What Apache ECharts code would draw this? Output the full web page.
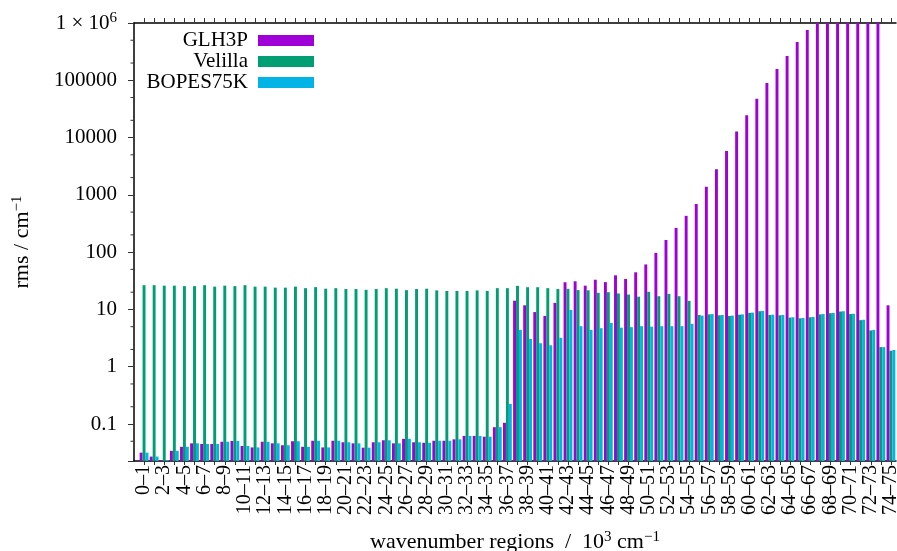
<!DOCTYPE html>
<html><head><meta charset="utf-8">
<script src="https://cdn.jsdelivr.net/npm/echarts@6/dist/echarts.min.js"></script>
<style>html,body{margin:0;padding:0;background:#fff}#c{width:897px;height:551px}</style>
</head><body><div id="c"></div>
<script>
const categories = ['0–1','1–2','2–3','3–4','4–5','5–6','6–7','7–8','8–9','9–10','10–11','11–12','12–13','13–14','14–15','15–16','16–17','17–18','18–19','19–20','20–21','21–22','22–23','23–24','24–25','25–26','26–27','27–28','28–29','29–30','30–31','31–32','32–33','33–34','34–35','35–36','36–37','37–38','38–39','39–40','40–41','41–42','42–43','43–44','44–45','45–46','46–47','47–48','48–49','49–50','50–51','51–52','52–53','53–54','54–55','55–56','56–57','57–58','58–59','59–60','60–61','61–62','62–63','63–64','64–65','65–66','66–67','67–68','68–69','69–70','70–71','71–72','72–73','73–74','74–75'];

const glh3p = [0.0316,0.027,0.0235,0.034,0.040,0.046,0.0448,0.0448,0.049,0.0506,0.0414,0.039,0.049,0.046,0.0426,0.050,0.040,0.051,0.039,
  0.051,0.048,0.046,0.0386,0.048,0.052,0.046,0.055,0.048,0.047,0.051,0.051,0.054,0.062,0.062,0.060,0.088,
  0.105,14.2,11.8,9.0,7.7,13.0,29.8,31,26,33,30,39.4,34,44.5,61,97,163,265,430,692,
  1390,2795,5840,12700,24500,47800,89800,157000,265000,466000,756000,
  1.3e6,1.9e6,2.8e6,4e6,5.5e6,7.5e6,1e7,
  11.8];

const velilla = [26.5,26.5,26,26,25.5,25.5,26.5,25,26,25.5,26.5,25,25,24,24,25,23.5,24.5,23,
  23.5,22.7,22.7,22,22.7,23.5,23,21.7,22.7,23,21.5,21,21,21,21.5,21,23.5,
  23.5,25.8,24.4,24.4,23.5,22.7,22.9,21.8,21.6,19.5,20,19,18.2,16.7,20.3,17,18.7,17,14.1,8.0,
  8.2,7.9,7.7,8.1,8.7,9.3,8.0,7.9,7.2,7.0,7.3,8.2,8.6,9.2,8.3,6.5,4.3,2.2,1.9];

const bopes75k = [0.0316,0.027,0.0235,0.034,0.040,0.046,0.0448,0.0448,0.049,0.0506,0.0414,0.039,0.049,0.046,0.0426,0.050,0.040,0.051,0.039,
  0.051,0.048,0.046,0.0386,0.048,0.052,0.046,0.055,0.048,0.047,0.051,0.051,0.054,0.062,0.062,0.060,0.088,
  0.224,4.4,3.05,2.57,2.37,3.2,9.8,5.1,4.4,4.7,5.8,4.8,4.9,5.1,5.0,5.1,5.1,5.1,5.6,
  7.8,8.3,8.0,7.8,8.2,8.8,9.4,8.1,8.0,7.3,7.1,7.4,8.3,8.7,9.3,8.4,6.6,4.4,2.2,1.96];

const yTickLabels = {'-1':'0.1','0':'1','1':'10','2':'100','3':'1000','4':'10000','5':'100000','6':'{a|1 × 10}{s|6}'};
const minorMultipliers = [2,5];
const Y_MIN = 0.0226, Y_MAX = 1e6;

const FONT = 'Liberation Serif';
const BAR_FRAC = 0.29;   // width of one bar relative to category band
const chart = echarts.init(document.getElementById('c'), null, {renderer:'canvas'});

function makeBarSeries(name, values, color, slot) {
  return {
    name: name, type:'custom', xAxisIndex:0, yAxisIndex:0,
    itemStyle:{color:color},
    encode:{x:0, y:1},
    data: values.map((v,i)=>[i,v]),
    renderItem: function(params, api){
      const i = api.value(0), v = api.value(1);
      const band = api.size([1, 0])[0];
      const w = band * BAR_FRAC;
      const top = api.coord([i, Math.min(v, Y_MAX)]);
      const base = api.coord([i, Y_MIN]);
      const cx = top[0] + (slot - 1) * w;
      return {type:'rect', shape:{x: cx - w/2, y: top[1], width: w, height: base[1] - top[1]},
              style:{fill: api.visual('color')}};
    }
  };
}

const supRich = {sup:{fontFamily:FONT, fontSize:15, color:'#000', verticalAlign:'top', padding:[0,0,9,0]}};
const option = {
  animation:false,
  textStyle:{fontFamily:FONT, color:'#000'},
  grid:[
    {left:139, right:1, top:23, bottom:90, outerBoundsMode:'none', containLabel:false},
    {left:134, right:1, top:23, bottom:90, outerBoundsMode:'none', containLabel:false}
  ],
  legend:{
    orient:'vertical', left:128, top:25, align:'right', itemGap:0,
    itemWidth:56, itemHeight:11, icon:'rect',
    data:['GLH3P','Velilla','BOPES75K'],
    textStyle:{fontFamily:FONT, fontSize:21, color:'#000', width:115, align:'right', lineHeight:21, padding:[0,5,0,0]}
  },
  xAxis:[
    {type:'category', gridIndex:0, data:categories, position:'bottom',
     axisLine:{show:false},
     axisTick:{show:true, alignWithLabel:true, interval:0, length:4, lineStyle:{color:'#333'}},
     axisLabel:{interval:1, rotate:90, fontFamily:FONT, fontSize:20, color:'#000', margin:4, showMinLabel:true, showMaxLabel:true, hideOverlap:false}
    },
    {type:'category', gridIndex:0, data:categories, position:'top',
     axisLine:{show:false},
     axisTick:{show:true, alignWithLabel:true, interval:0, length:5, lineStyle:{color:'#333'}},
     axisLabel:{show:false}
    },
    {type:'value', gridIndex:1, min:0, max:1, position:'bottom',
     axisLine:{show:true, lineStyle:{color:'#000', width:1.5}}, axisTick:{show:false}, axisLabel:{show:false}, splitLine:{show:false},
     name:'wavenumber regions  /  10{sup|3} cm{sup|−1}', nameLocation:'middle', nameGap:69,
     nameTextStyle:{fontFamily:FONT, fontSize:22, color:'#000', rich:supRich}
    },
    {type:'value', gridIndex:1, min:0, max:1, position:'top',
     axisLine:{show:true, lineStyle:{color:'#000', width:1.5}}, axisTick:{show:false}, axisLabel:{show:false}, splitLine:{show:false}
    }
  ],
  yAxis:[
    {type:'log', gridIndex:0, min:Y_MIN, max:Y_MAX, logBase:10, splitNumber:10, show:false},
    {type:'log', gridIndex:1, min:Y_MIN, max:Y_MAX, logBase:10, splitNumber:10,
     axisLine:{show:true, lineStyle:{color:'#000', width:1.5}},
     axisTick:{show:true, length:6, lineStyle:{color:'#333'}},
     splitLine:{show:false},
     axisLabel:{fontFamily:FONT, fontSize:21, color:'#000', margin:17,
       formatter:function(v){const l=Math.log10(v);const r=Math.round(l);if(Math.abs(l-r)>1e-6)return '';return yTickLabels[String(r)]||'';},
       rich:{a:{fontFamily:FONT,fontSize:21,color:'#000'}, s:{fontFamily:FONT,fontSize:15,color:'#000',verticalAlign:'top',padding:[0,0,9,0]}}
     },
     name:'rms / cm{sup|−1}', nameLocation:'middle', nameGap:100,
     nameTextStyle:{fontFamily:FONT, fontSize:22, color:'#000', rich:supRich}
    }
  ],
  series:[
    makeBarSeries('GLH3P', glh3p, '#a000d8', 0),
    makeBarSeries('Velilla', velilla, '#009e73', 1),
    makeBarSeries('BOPES75K', bopes75k, '#00b4e6', 2)
  ]
};
chart.setOption(option);

// minor ticks at 2x and 5x each decade, positioned through the axis scale
const axisX = chart.convertToPixel({xAxisIndex:2}, 0);
const minor = [];
for (let e = -2; e <= 6; e++) {
  for (const m of minorMultipliers) {
    const v = m * Math.pow(10, e);
    if (v <= Y_MIN || v >= Y_MAX) continue;
    const y = chart.convertToPixel({yAxisIndex:1}, v);
    minor.push({type:'line', shape:{x1:axisX-3.5, y1:y, x2:axisX, y2:y}, style:{stroke:'#333', lineWidth:1}, z:10});
  }
}
chart.setOption({graphic:minor});
</script>
</body></html>
